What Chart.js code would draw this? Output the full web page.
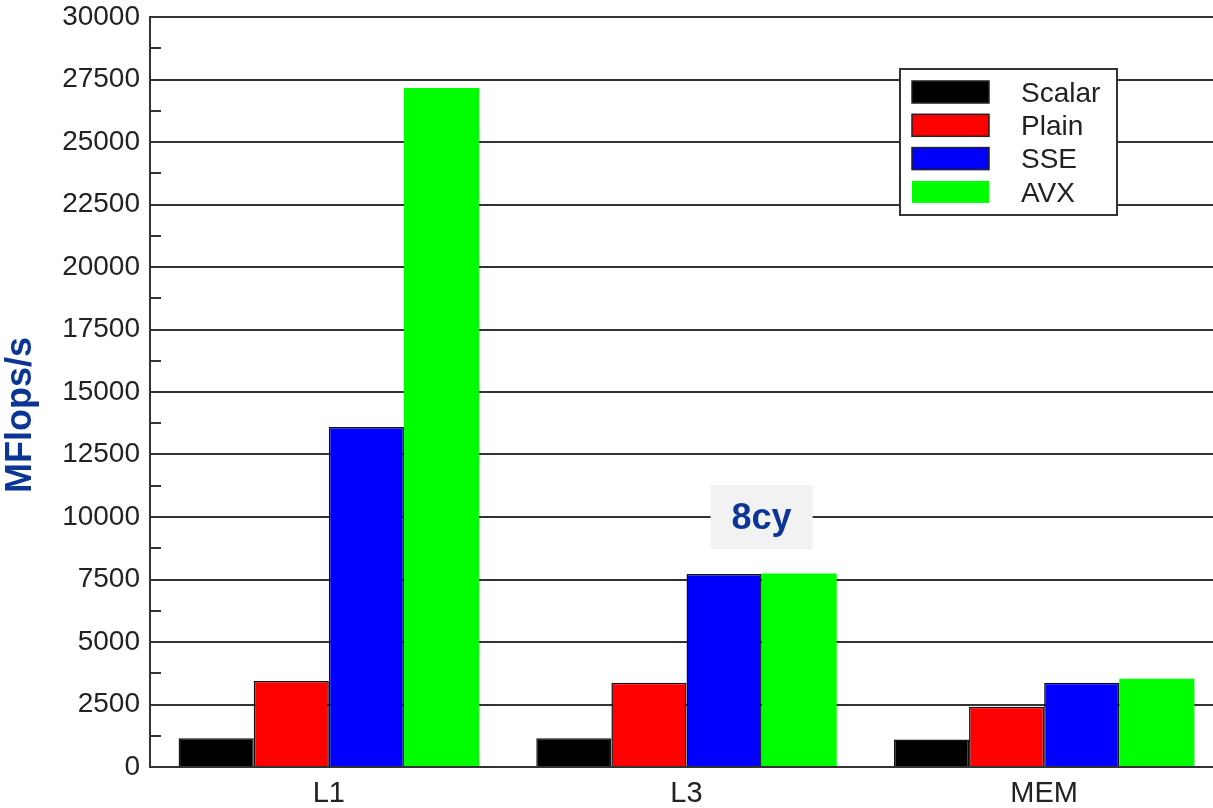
<!DOCTYPE html>
<html>
<head>
<meta charset="utf-8">
<script src="https://cdn.jsdelivr.net/npm/chart.js@4/dist/chart.umd.min.js"></script>
<style>
    html, body { margin: 0; padding: 0; background: #fff; overflow: hidden; }
    #wrap { width: 1223px; height: 808px; position: relative; }
</style>
</head>
<body>
<div id="wrap"><canvas id="perfChart"></canvas></div>
<script>
const categories = ["L1", "L3", "MEM"]
const seriesNames = ["Scalar", "Plain", "SSE", "AVX"]
const scalarValues = [1150, 1150, 1100]
const plainValues = [3440, 3370, 2410]
const sseValues = [13600, 7720, 3370]
const avxValues = [27160, 7740, 3530]
const yMax = 30000
const yMajorStep = 2500
const yMinorStep = 1250
const yTitle = "MFlops/s"
const noteText = "8cy"
const noteValue = 10000

const fontFamily = "'Liberation Sans', Arial, Helvetica, sans-serif"
const noteBlue = "#0b3696"
const lineGray = "#333"

const colors = ["#000000", "#ff0000", "#0000ff", "#00ff00"]
const borders = [1.5, 1.5, 1.5, 0]
const allValues = [scalarValues, plainValues, sseValues, avxValues]

// legend box, the 8cy note, axis title and the small inner ticks
const extras = {
    id: "extras",
    beforeDatasetsDraw(chart) {
        const { ctx, chartArea, scales } = chart
        const y = scales.y
        ctx.save()
        ctx.strokeStyle = lineGray
        ctx.lineWidth = 2
        y.ticks.forEach(t => {
            if (t.value % yMajorStep === 0) return
            const py = Math.round(y.getPixelForValue(t.value))
            ctx.beginPath()
            ctx.moveTo(chartArea.left, py)
            ctx.lineTo(chartArea.left + 11, py)
            ctx.stroke()
        })
        ctx.restore()
    },
    afterDatasetsDraw(chart) {
        const { ctx, scales } = chart
        ctx.save()

        // note box above the L3 SSE/AVX bars
        const sseBar = chart.getDatasetMeta(2).data[1]
        const nx = sseBar.x + sseBar.width / 2
        const ny = scales.y.getPixelForValue(noteValue)
        ctx.fillStyle = "#f2f2f2"
        ctx.fillRect(nx - 51, ny - 32, 102, 64)
        ctx.fillStyle = noteBlue
        ctx.font = "bold 36px " + fontFamily
        ctx.textAlign = "center"
        ctx.textBaseline = "middle"
        ctx.fillText(noteText, nx, ny + 2)

        // legend
        const lx = 900, ly = 69, lw = 217, lh = 146
        ctx.fillStyle = "#fff"
        ctx.fillRect(lx, ly, lw, lh)
        ctx.strokeStyle = "#333"
        ctx.lineWidth = 2
        ctx.strokeRect(lx, ly, lw, lh)
        ctx.font = "28px " + fontFamily
        ctx.textAlign = "left"
        chart.data.datasets.forEach((ds, i) => {
            const sy = ly + 12 + i * 33.3
            ctx.fillStyle = ds.backgroundColor
            ctx.fillRect(lx + 12, sy, 77, 22)
            if (ds.borderWidth > 0) {
                ctx.strokeStyle = "#222"
                ctx.lineWidth = 1.5
                ctx.strokeRect(lx + 12, sy, 77, 22)
            }
            ctx.fillStyle = "#222"
            ctx.fillText(ds.label, lx + 121, sy + 13)
        })

        // y axis title
        ctx.translate(21, 415)
        ctx.rotate(-Math.PI / 2)
        ctx.fillStyle = noteBlue
        ctx.font = "bold 36px " + fontFamily
        ctx.textAlign = "center"
        ctx.textBaseline = "middle"
        ctx.fillText(yTitle, 0, 0)
        ctx.restore()
    }
}

new Chart(document.getElementById("perfChart"), {
    type: "bar",
    data: {
        labels: categories,
        datasets: seriesNames.map((name, i) => ({
            label: name,
            data: allValues[i],
            backgroundColor: colors[i],
            borderColor: "#111",
            borderWidth: borders[i],
            borderSkipped: "start",
            barPercentage: 1.0,
            categoryPercentage: 0.84
        }))
    },
    options: {
        responsive: true,
        maintainAspectRatio: false,
        animation: false,
        layout: {
            autoPadding: false,
            padding: { top: 17, left: 0, right: 0, bottom: 0 }
        },
        plugins: {
            legend: { display: false },
            tooltip: { enabled: false }
        },
        scales: {
            x: {
                afterFit: s => { s.height = 41 },
                grid: { display: false },
                border: { display: false },
                ticks: {
                    color: "#222",
                    padding: 2,
                    font: { family: fontFamily, size: 29 }
                }
            },
            y: {
                min: 0,
                max: yMax,
                afterFit: s => {
                    s.width = 150
                    s.paddingTop = 0
                    s.paddingBottom = 0
                },
                border: { display: true, color: lineGray, width: 2 },
                grid: {
                    drawTicks: false,
                    lineWidth: 2,
                    color: c => (c.tick && c.tick.value % yMajorStep === 0) ? lineGray : "rgba(0,0,0,0)"
                },
                ticks: {
                    stepSize: yMinorStep,
                    autoSkip: false,
                    padding: 10,
                    color: "#222",
                    font: { family: fontFamily, size: 28 },
                    callback: v => v % yMajorStep === 0 ? String(v) : ""
                }
            }
        }
    },
    plugins: [extras]
})
</script>
</body>
</html>
